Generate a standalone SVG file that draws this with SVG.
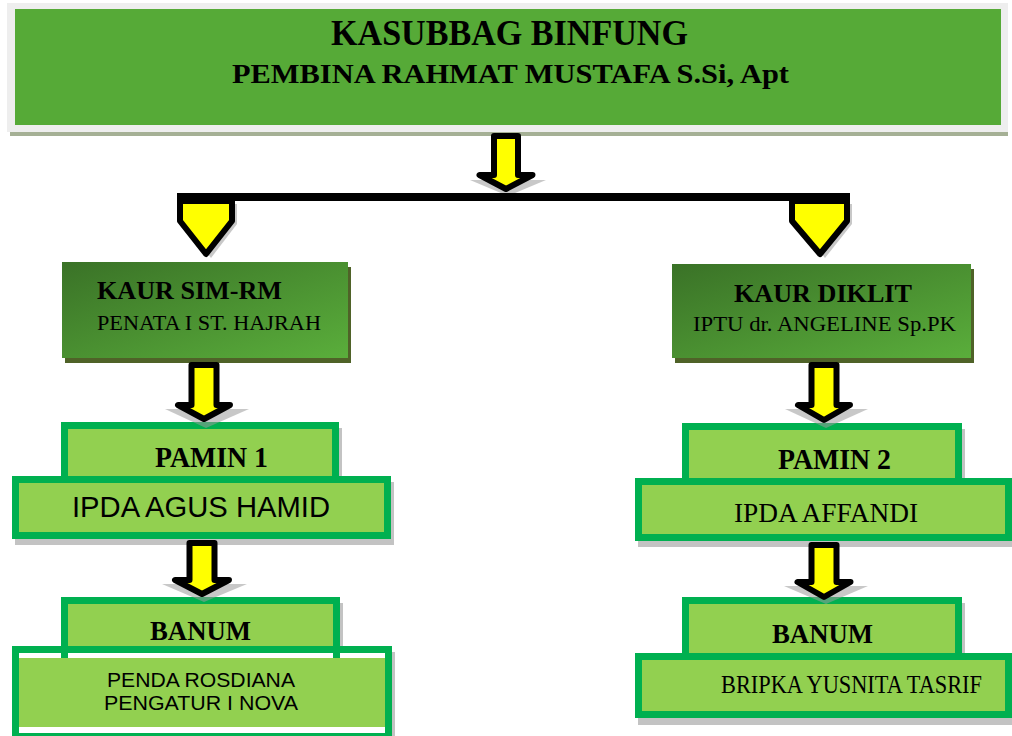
<svg xmlns="http://www.w3.org/2000/svg" width="1012" height="736" viewBox="0 0 1012 736">
<defs>
<linearGradient id="kaurGrad" x1="0" y1="0" x2="1" y2="1">
<stop offset="0" stop-color="#3a7227"/>
<stop offset="1" stop-color="#5aae3b"/>
</linearGradient>
</defs>
<style>
.ser{font-family:"Liberation Serif","Times New Roman",serif;fill:#000}
.b{font-weight:bold}
.sans{font-family:"Liberation Sans",Arial,sans-serif;fill:#000}
.arrow{fill:#ffff00;stroke:#000;stroke-width:6;stroke-linejoin:round}
.ashadow{fill:#9a9a9a;opacity:0.55}
.gbox{fill:#92d050;stroke:#00b050;stroke-width:7}
.gshadow{fill:#c3c3c3}
.kaur{fill:url(#kaurGrad)}
.kshadow{fill:#4f6228}
</style>
<rect width="1012" height="736" fill="#ffffff"/>

<g id="kasubbag">
<rect x="10" y="128" width="998" height="8" fill="#a5b095"/>
<rect x="7" y="3" width="1001" height="129" fill="#eeeeee"/>
<rect x="15" y="9" width="986" height="116" fill="#56aa37"/>
<text class="ser b" x="509.5" y="45" font-size="35" text-anchor="middle" textLength="357" lengthAdjust="spacingAndGlyphs">KASUBBAG BINFUNG</text>
<text class="ser b" x="510.5" y="83" font-size="28" text-anchor="middle" textLength="557" lengthAdjust="spacingAndGlyphs">PEMBINA RAHMAT MUSTAFA S.Si, Apt</text>
</g>

<g id="kaur-sim-rm">
<rect class="kshadow" x="65" y="267" width="286" height="96"/>
<rect class="kaur" x="62" y="262" width="286" height="96"/>
<text class="ser b" x="97" y="299" font-size="26" textLength="185" lengthAdjust="spacingAndGlyphs">KAUR SIM-RM</text>
<text class="ser" x="97" y="330" font-size="22" textLength="224" lengthAdjust="spacingAndGlyphs">PENATA I ST. HAJRAH</text>
</g>

<g id="kaur-diklit">
<rect class="kshadow" x="675" y="269" width="299" height="94"/>
<rect class="kaur" x="672" y="264" width="299" height="94"/>
<text class="ser b" x="734" y="302" font-size="26" textLength="178" lengthAdjust="spacingAndGlyphs">KAUR DIKLIT</text>
<text class="ser" x="693" y="331" font-size="22" textLength="263" lengthAdjust="spacingAndGlyphs">IPTU dr. ANGELINE Sp.PK</text>
</g>

<g id="pamin1">
<rect class="gshadow" x="64" y="428" width="278" height="56"/>
<rect class="gbox" x="64.5" y="425.5" width="271" height="56"/>
<text class="ser b" x="155" y="467" font-size="29" textLength="113" lengthAdjust="spacingAndGlyphs">PAMIN 1</text>
</g>

<g id="ipda-agus-hamid">
<rect class="gshadow" x="15" y="482" width="379" height="63"/>
<rect class="gbox" x="15.5" y="479.5" width="372" height="56"/>
<text class="sans" x="72" y="517" font-size="29" textLength="258" lengthAdjust="spacingAndGlyphs">IPDA AGUS HAMID</text>
</g>

<g id="pamin2">
<rect class="gshadow" x="685" y="429" width="280" height="56"/>
<rect class="gbox" x="685.5" y="426.5" width="273" height="56"/>
<text class="ser b" x="778" y="469" font-size="29" textLength="113" lengthAdjust="spacingAndGlyphs">PAMIN 2</text>
</g>

<g id="ipda-affandi">
<rect class="gshadow" x="638" y="484" width="380" height="63"/>
<rect class="gbox" x="638.5" y="481.5" width="370" height="56"/>
<text class="ser" x="734" y="522" font-size="27" textLength="184" lengthAdjust="spacingAndGlyphs">IPDA AFFANDI</text>
</g>

<g id="banum1">
<rect class="gshadow" x="64" y="603" width="279" height="56"/>
<rect class="gbox" x="64.5" y="600.5" width="272" height="56"/>
<text class="ser b" x="150" y="640" font-size="27" textLength="101" lengthAdjust="spacingAndGlyphs">BANUM</text>
</g>

<g id="penda-pengatur">
<rect class="gshadow" x="15" y="652" width="380" height="90"/>
<rect class="gbox" x="15.5" y="649.5" width="373" height="83"/>
<rect x="19" y="653" width="366" height="5" fill="#ffffff"/>
<rect x="19" y="727" width="366" height="6" fill="#ffffff"/>
<rect x="61" y="653" width="7" height="5" fill="#00b050"/>
<rect x="333" y="653" width="7" height="5" fill="#00b050"/>
<text class="sans" x="107" y="687" font-size="19.5" textLength="188" lengthAdjust="spacingAndGlyphs">PENDA ROSDIANA</text>
<text class="sans" x="104" y="710" font-size="19.5" textLength="194" lengthAdjust="spacingAndGlyphs">PENGATUR I NOVA</text>
</g>

<g id="banum2">
<rect class="gshadow" x="685" y="603" width="280" height="56"/>
<rect class="gbox" x="685.5" y="600.5" width="273" height="56"/>
<text class="ser b" x="772" y="643" font-size="27" textLength="101" lengthAdjust="spacingAndGlyphs">BANUM</text>
</g>

<g id="bripka">
<rect class="gshadow" x="638" y="659" width="380" height="66"/>
<rect class="gbox" x="638.5" y="656.5" width="370" height="58"/>
<text class="ser" x="721" y="693" font-size="25" textLength="261" lengthAdjust="spacingAndGlyphs">BRIPKA YUSNITA TASRIF</text>
</g>

<g id="connectors">
<!-- top arrow -->
<polygon class="ashadow" points="470,180 546,180 508,196"/>
<path class="arrow" d="M494,136 L518,136 L518,175 L532.5,175 L506,189 L479.5,175 L494,175 Z"/>
<!-- branch -->
<polygon class="ashadow" points="237,204 237,224 211,258 185,224 185,204"/>
<polygon class="ashadow" points="852,204 852,224 825,258 797,224 797,204"/>
<path class="arrow" d="M180,201 L232,201 L232,221 L206,254 L180,221 Z"/>
<path class="arrow" d="M792,201 L847,201 L847,221 L820,254 L792,221 Z"/>
<line x1="177" y1="197" x2="850" y2="197" stroke="#000" stroke-width="8"/>
<!-- left column -->
<polygon class="ashadow" points="165,409 249,409 206,428"/>
<path class="arrow" d="M191.5,365 L216.5,365 L216.5,405 L230,405 L204,419 L178,405 L191.5,405 Z"/>
<polygon class="ashadow" points="162,584 247,584 204,602"/>
<path class="arrow" d="M189.5,543 L214.5,543 L214.5,580 L229,580 L202,594 L175,580 L189.5,580 Z"/>
<!-- right column -->
<polygon class="ashadow" points="785,409 868,409 826,428"/>
<path class="arrow" d="M811.5,365 L836.5,365 L836.5,405 L850,405 L824,420 L798,405 L811.5,405 Z"/>
<polygon class="ashadow" points="784,586 868,586 826,604"/>
<path class="arrow" d="M811.5,545 L836.5,545 L836.5,582 L850.5,582 L824,597 L797.5,582 L811.5,582 Z"/>
</g>
</svg>
